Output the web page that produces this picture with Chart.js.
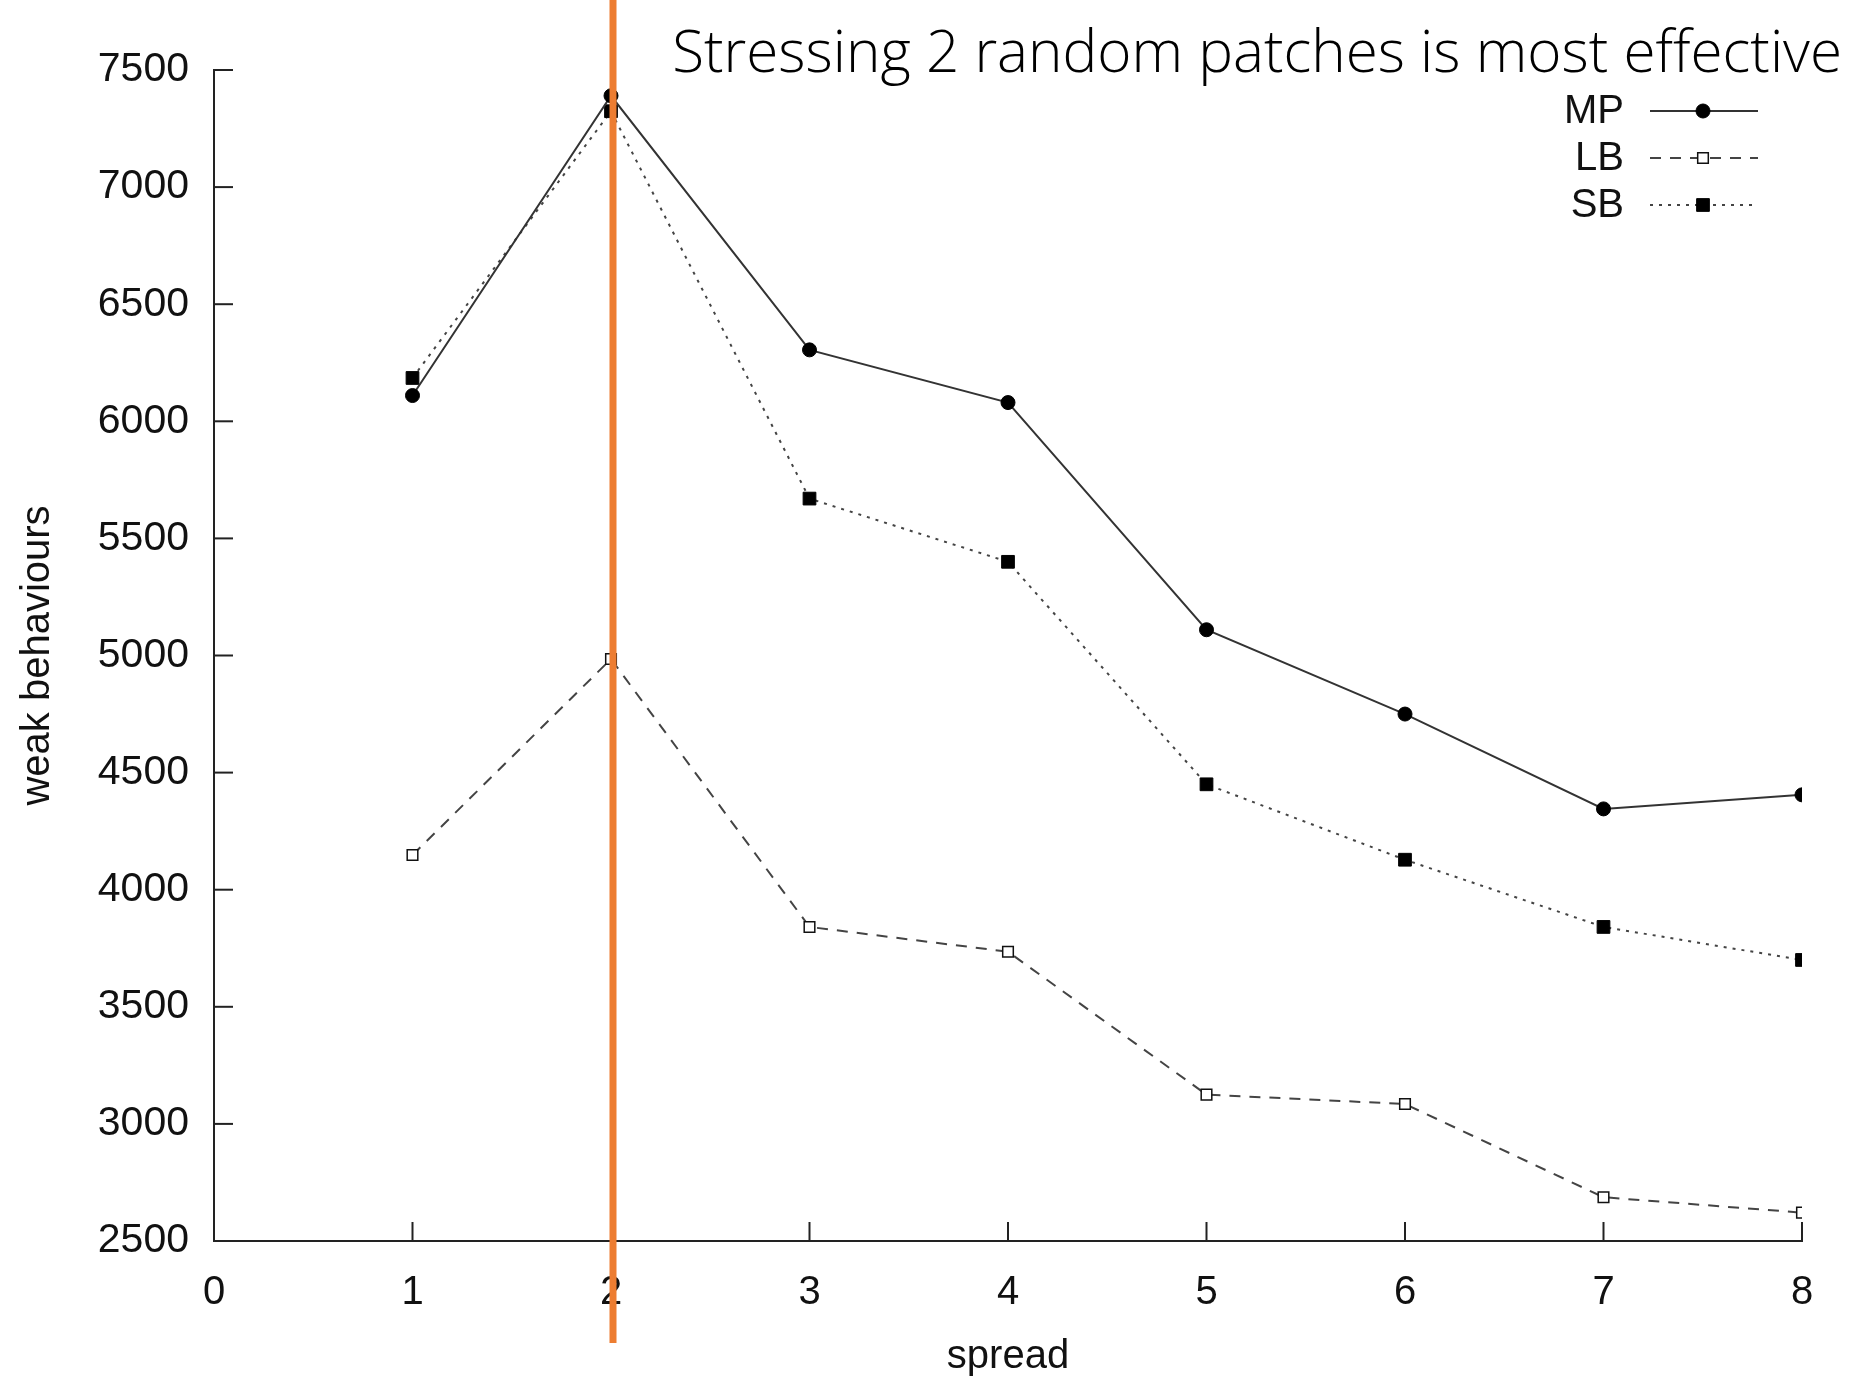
<!DOCTYPE html>
<html>
<head>
<meta charset="utf-8">
<script src="https://cdn.jsdelivr.net/npm/chart.js@4/dist/chart.umd.min.js"></script>
<style>
html,body{margin:0;padding:0;background:#fff;}
#wrap{width:1852px;height:1383px;position:relative;}
</style>
</head>
<body>
<div id="wrap"><canvas id="grafico"></canvas></div>
<script>
// valores
const spread = [1, 2, 3, 4, 5, 6, 7, 8];
const mp = [6110, 7390, 6305, 6080, 5110, 4750, 4345, 4405];
const lb = [4148, 4985, 3841, 3735, 3125, 3085, 2687, 2621];
const sb = [6185, 7324, 5670, 5400, 4450, 4128, 3841, 3700];
const xTicks = [0, 1, 2, 3, 4, 5, 6, 7, 8];
const yTicks = [2500, 3000, 3500, 4000, 4500, 5000, 5500, 6000, 6500, 7000, 7500];
const titulo = "Stressing 2 random patches is most effective";
const marcado = 2;

function puntos(valores){
  let res = [];
  for(let i=0;i<spread.length;i++){
    res.push({x: spread[i], y: valores[i]});
  }
  return res;
}

const fuente = "'Liberation Sans', Arial, sans-serif";

// marcas hacia dentro, leyenda, linea naranja y titulo
const extras = {
  id: "extras",
  afterDatasetsDraw(chart){
    const c = chart.ctx;
    const xs = chart.scales.x;
    const ys = chart.scales.y;
    const area = chart.chartArea;
    c.save();
    c.strokeStyle = "#222";
    c.lineWidth = 2;
    for(let i=1;i<xTicks.length;i++){
      let px = xs.getPixelForValue(xTicks[i]);
      c.beginPath();
      c.moveTo(px, area.bottom);
      c.lineTo(px, area.bottom - 19);
      c.stroke();
    }
    for(let i=1;i<yTicks.length;i++){
      let py = ys.getPixelForValue(yTicks[i]);
      c.beginPath();
      c.moveTo(area.left, py);
      c.lineTo(area.left + 19, py);
      c.stroke();
    }

    // leyenda
    c.font = "40px " + fuente;
    c.textAlign = "right";
    c.textBaseline = "middle";
    const sets = chart.data.datasets;
    for(let i=0;i<sets.length;i++){
      let ds = sets[i];
      let yy = 111 + i*47;
      c.fillStyle = "#111";
      c.fillText(ds.label, 1624, yy + 1);
      c.strokeStyle = ds.borderColor;
      c.lineWidth = ds.borderWidth;
      c.setLineDash(ds.borderDash || []);
      c.beginPath();
      c.moveTo(1650, yy);
      c.lineTo(1758, yy);
      c.stroke();
      c.setLineDash([]);
      let r = ds.pointRadius;
      c.fillStyle = ds.pointBackgroundColor;
      c.strokeStyle = ds.pointBorderColor;
      c.lineWidth = ds.pointBorderWidth;
      c.beginPath();
      if(ds.pointStyle == "circle"){
        c.arc(1703, yy, r, 0, Math.PI*2);
      } else {
        c.rect(1703 - r*0.707, yy - r*0.707, r*1.414, r*1.414);
      }
      c.fill();
      c.stroke();
    }

    // linea naranja en spread = 2
    let ox = xs.getPixelForValue(marcado) + 2;
    c.fillStyle = "#ED7D31";
    c.fillRect(ox - 3.5, 0, 7, 1343);

    // titulo
    c.font = "300 58.4px 'Open Sans', sans-serif";
    c.fillStyle = "#000";
    c.textAlign = "right";
    c.textBaseline = "alphabetic";
    c.fillText(titulo, 1842, 72);
    c.restore();
  }
};

const ctx = document.getElementById("grafico");

let grafico = new Chart(ctx, {
  type: "line",
  data: {
    datasets: [
      {
        label: "MP",
        data: puntos(mp),
        borderColor: "#333",
        borderWidth: 2,
        pointStyle: "circle",
        pointRadius: 7,
        pointBackgroundColor: "#000",
        pointBorderColor: "#000",
        pointBorderWidth: 1,
        fill: false,
        tension: 0
      },
      {
        label: "LB",
        data: puntos(lb),
        borderColor: "#444",
        borderWidth: 2,
        borderDash: [11, 9],
        pointStyle: "rect",
        pointRadius: 7.5,
        pointBackgroundColor: "#fff",
        pointBorderColor: "#111",
        pointBorderWidth: 1.5,
        fill: false,
        tension: 0
      },
      {
        label: "SB",
        data: puntos(sb),
        borderColor: "#444",
        borderWidth: 2,
        borderDash: [3, 6],
        pointStyle: "rect",
        pointRadius: 9,
        pointBackgroundColor: "#000",
        pointBorderColor: "#000",
        pointBorderWidth: 1,
        fill: false,
        tension: 0
      }
    ]
  },
  options: {
    responsive: true,
    maintainAspectRatio: false,
    animation: false,
    layout: {
      padding: {left: 0, right: 50, top: 70, bottom: 0}
    },
    plugins: {
      legend: {display: false},
      tooltip: {enabled: false}
    },
    scales: {
      x: {
        type: "linear",
        min: 0,
        max: 8,
        afterFit: function(s){ s.height = 142; },
        afterBuildTicks: function(s){ s.ticks = xTicks.map(v => ({value: v})); },
        grid: {display: false, drawTicks: false},
        border: {display: true, color: "#222", width: 2},
        ticks: {
          color: "#111",
          font: {family: fuente, size: 40},
          padding: 28,
          maxRotation: 0,
          callback: function(v){ return String(v); }
        },
        title: {
          display: true,
          text: "spread",
          color: "#111",
          font: {family: fuente, size: 40},
          padding: {top: 0, bottom: 2}
        }
      },
      y: {
        min: 2500,
        max: 7500,
        afterFit: function(s){ s.width = 214; },
        afterBuildTicks: function(s){ s.ticks = yTicks.map(v => ({value: v})); },
        grid: {display: false, drawTicks: false},
        border: {display: true, color: "#222", width: 2},
        ticks: {
          color: "#111",
          font: {family: fuente, size: 41},
          padding: 25,
          callback: function(v){ return String(v); }
        },
        title: {
          display: true,
          text: "weak behaviours",
          color: "#111",
          font: {family: fuente, size: 40},
          padding: {top: 14, bottom: 0}
        }
      }
    }
  },
  plugins: [extras]
});
</script>
</body>
</html>
